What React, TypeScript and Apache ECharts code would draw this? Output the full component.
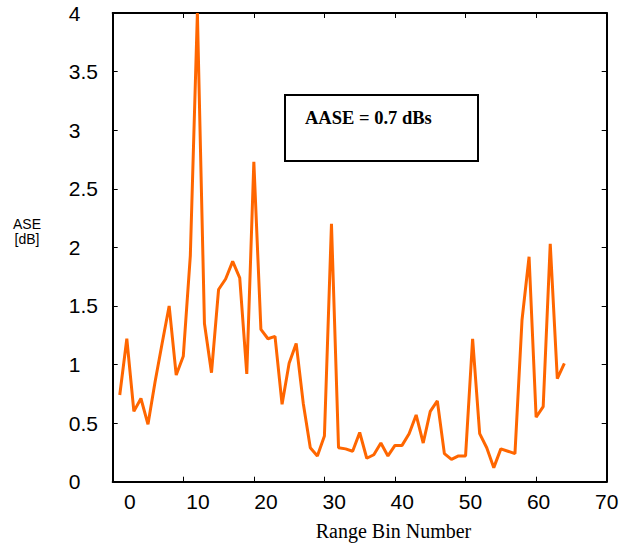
import React, { useEffect, useRef } from "react";
import * as echarts from "echarts";

const rangeBins = [
  1, 2, 3, 4, 5, 6, 7, 8, 9, 10, 11, 12, 13, 14, 15, 16,
  17, 18, 19, 20, 21, 22, 23, 24, 25, 26, 27, 28, 29, 30, 31, 32,
  33, 34, 35, 36, 37, 38, 39, 40, 41, 42, 43, 44, 45, 46, 47, 48,
  49, 50, 51, 52, 53, 54, 55, 56, 57, 58, 59, 60, 61, 62, 63, 64,
];

const aseValues = [
  0.74, 1.22, 0.6, 0.71, 0.49, 0.85, 1.18, 1.5, 0.91, 1.07, 1.93, 4.0, 1.35, 0.93, 1.64, 1.73,
  1.88, 1.74, 0.92, 2.73, 1.3, 1.22, 1.24, 0.66, 1.01, 1.18, 0.67, 0.29, 0.22, 0.39, 2.2, 0.29,
  0.28, 0.26, 0.42, 0.2, 0.23, 0.33, 0.22, 0.31, 0.31, 0.41, 0.57, 0.33, 0.6, 0.69, 0.24, 0.19,
  0.22, 0.22, 1.22, 0.41, 0.29, 0.12, 0.28, 0.26, 0.24, 1.38, 1.92, 0.55, 0.64, 2.03, 0.88, 1.01,
];

const xTickLabels = [0, 10, 20, 30, 40, 50, 60, 70];
const yTickLabels = [0, 0.5, 1, 1.5, 2, 2.5, 3, 3.5, 4];

const annotationText = "AASE = 0.7 dBs";
const xAxisTitle = "Range Bin Number";
const yAxisTitle = "ASE\n[dB]";

export default function App() {
  const ref = useRef<HTMLDivElement>(null);

  useEffect(() => {
    if (!ref.current) return;
    const chart = echarts.init(ref.current, undefined, { renderer: "svg" });

    const sans = "'Liberation Sans', Arial, sans-serif";
    const serif = "'Liberation Serif', 'Times New Roman', serif";

    const axisLineStyle = () => ({ show: true, onZero: false, lineStyle: { color: "#000", width: 2 } });
    const tickStyle = () => ({ show: true, inside: true, length: 5, lineStyle: { color: "#000", width: 1 } });

    chart.setOption({
      animation: false,
      backgroundColor: "#fff",
      grid: { left: 112.7, top: 13, right: 20.3, bottom: 66.3, containLabel: false },
      xAxis: [
        {
          type: "value",
          position: "bottom",
          min: xTickLabels[0],
          max: xTickLabels[xTickLabels.length - 1],
          interval: 10,
          axisLine: axisLineStyle(),
          axisTick: tickStyle(),
          axisLabel: { show: false },
          splitLine: { show: false },
        },
        {
          type: "value",
          position: "top",
          min: xTickLabels[0],
          max: xTickLabels[xTickLabels.length - 1],
          interval: 10,
          axisLine: axisLineStyle(),
          axisTick: tickStyle(),
          axisLabel: { show: false },
          splitLine: { show: false },
        },
        {
          type: "value",
          position: "bottom",
          min: -2.5,
          max: xTickLabels[xTickLabels.length - 1],
          axisLine: { show: false, onZero: false },
          axisTick: { show: false },
          splitLine: { show: false },
          axisLabel: {
            show: true,
            customValues: xTickLabels,
            margin: 9,
            color: "#000",
            fontFamily: sans,
            fontSize: 21,
          },
        },
      ],
      yAxis: [
        {
          type: "value",
          position: "left",
          min: yTickLabels[0],
          max: yTickLabels[yTickLabels.length - 1],
          interval: 0.5,
          axisLine: axisLineStyle(),
          axisTick: tickStyle(),
          splitLine: { show: false },
          axisLabel: {
            show: true,
            align: "left",
            margin: 44,
            color: "#000",
            fontFamily: sans,
            fontSize: 21,
          },
        },
        {
          type: "value",
          position: "right",
          min: yTickLabels[0],
          max: yTickLabels[yTickLabels.length - 1],
          interval: 0.5,
          axisLine: axisLineStyle(),
          axisTick: tickStyle(),
          splitLine: { show: false },
          axisLabel: { show: false },
        },
      ],
      series: [
        {
          type: "line",
          xAxisIndex: 0,
          yAxisIndex: 0,
          data: rangeBins.map((b, i) => [b, aseValues[i]]),
          showSymbol: false,
          symbol: "none",
          lineStyle: { color: "#ff6600", width: 3 },
          z: 3,
        },
      ],
      graphic: [
        {
          type: "rect",
          shape: { x: 285, y: 95, width: 193, height: 66 },
          style: { fill: "none", stroke: "#000", lineWidth: 2 },
        },
        {
          type: "text",
          x: 305,
          y: 117.5,
          style: {
            text: annotationText,
            fill: "#000",
            font: `bold 18.5px ${serif}`,
            verticalAlign: "middle",
          },
        },
        {
          type: "text",
          x: 27,
          y: 231,
          style: {
            text: yAxisTitle,
            fill: "#000",
            font: `14px ${sans}`,
            align: "center",
            verticalAlign: "middle",
            lineHeight: 15,
          },
        },
        {
          type: "text",
          x: 393.5,
          y: 531,
          style: {
            text: xAxisTitle,
            fill: "#000",
            font: `20px ${serif}`,
            align: "center",
            verticalAlign: "middle",
          },
        },
      ],
    });

    return () => chart.dispose();
  }, []);

  return (
    <div
      ref={ref}
      style={{ position: "absolute", left: 0, top: 0, width: 627, height: 548 }}
    />
  );
}
